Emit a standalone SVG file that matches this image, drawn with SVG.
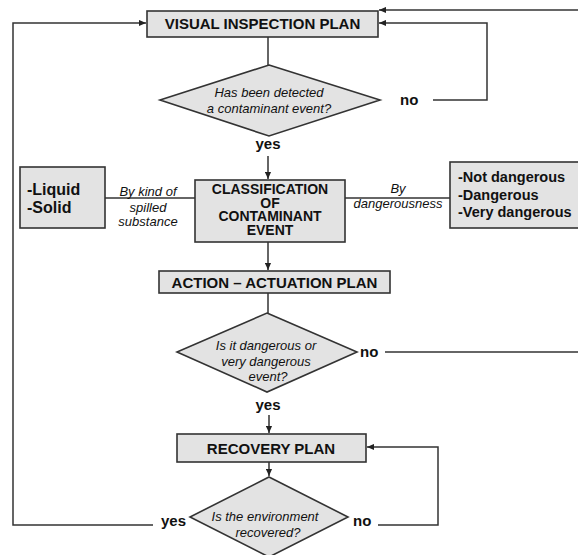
<svg xmlns="http://www.w3.org/2000/svg" width="578" height="555" viewBox="0 0 578 555">
<defs>
<marker id="ah" viewBox="0 0 8 8" refX="8" refY="4" markerWidth="7" markerHeight="7" markerUnits="userSpaceOnUse" orient="auto">
<path d="M0,0.5 L8,4 L0,7.5 Z" fill="#222"/>
</marker>
<style>
.box{fill:#e3e3e3;stroke:#333;stroke-width:1.6}
.ln{fill:none;stroke:#333;stroke-width:1.5}
.arr{fill:none;stroke:#333;stroke-width:1.5;marker-end:url(#ah)}
.bt{font-family:"Liberation Sans",Arial,sans-serif;font-weight:bold;fill:#111;text-anchor:middle}
.bl{font-family:"Liberation Sans",Arial,sans-serif;font-weight:bold;fill:#111}
.it{font-family:"Liberation Sans",Arial,sans-serif;font-style:italic;fill:#111;text-anchor:middle;font-size:13px}
</style>
</defs>
<rect width="578" height="555" fill="#fff"/>
<g id="connectors">
<line class="ln" x1="268" y1="37" x2="268" y2="65"/>
<polyline class="arr" points="433,100 487,100 487,23 379,23"/>
<polyline class="arr" points="578,10 379,10"/>
<polyline class="arr" points="153,525 13,525 13,23 146,23"/>
<line class="arr" x1="268" y1="156" x2="268" y2="179"/>
<line class="ln" x1="105" y1="198" x2="195" y2="198"/>
<line class="ln" x1="345" y1="198" x2="450" y2="198"/>
<line class="arr" x1="268" y1="242" x2="268" y2="270"/>
<line class="ln" x1="268" y1="293" x2="268" y2="313"/>
<line class="ln" x1="385" y1="352" x2="578" y2="352"/>
<line class="arr" x1="269" y1="415" x2="269" y2="433"/>
<line class="arr" x1="269" y1="462" x2="269" y2="476"/>
<polyline class="arr" points="378,525 438,525 438,447 367,447"/>
</g>
<g id="visual-inspection">
<rect class="box" x="147" y="11" width="231" height="26"/>
<text class="bt" x="262.5" y="29" font-size="15">VISUAL INSPECTION PLAN</text>
</g>
<g id="detected-decision">
<polygon class="box" points="269,65 380,100 269,136 160,100"/>
<text class="it" x="269" y="97">Has been detected</text>
<text class="it" x="269" y="113">a contaminant event?</text>
</g>
<g id="label-no-1"><text class="bl" x="400" y="105" font-size="15">no</text></g>
<g id="label-yes-1"><text class="bt" x="268" y="149" font-size="15">yes</text></g>
<g id="substance-kinds">
<rect class="box" x="20" y="167" width="85" height="61"/>
<text class="bl" x="27" y="195" font-size="16">-Liquid</text>
<text class="bl" x="27" y="213" font-size="16">-Solid</text>
</g>
<g id="label-kind">
<text class="it" x="148" y="196">By kind of</text>
<text class="it" x="148" y="212">spilled</text>
<text class="it" x="148" y="226">substance</text>
</g>
<g id="classification">
<rect class="box" x="195" y="180" width="150" height="62"/>
<text class="bt" x="270" y="194" font-size="14">CLASSIFICATION</text>
<text class="bt" x="270" y="207.5" font-size="14">OF</text>
<text class="bt" x="270" y="221" font-size="14">CONTAMINANT</text>
<text class="bt" x="270" y="234.5" font-size="14">EVENT</text>
</g>
<g id="label-danger">
<text class="it" x="398" y="193">By</text>
<text class="it" x="398" y="208">dangerousness</text>
</g>
<g id="danger-levels">
<rect class="box" x="450" y="162" width="140" height="66"/>
<text class="bl" x="458" y="182" font-size="14.5">-Not dangerous</text>
<text class="bl" x="458" y="200" font-size="14.5">-Dangerous</text>
<text class="bl" x="458" y="217" font-size="14.5">-Very dangerous</text>
</g>
<g id="action-plan">
<rect class="box" x="159" y="271" width="231" height="22"/>
<text class="bt" x="274.5" y="288" font-size="15">ACTION – ACTUATION PLAN</text>
</g>
<g id="danger-decision">
<polygon class="box" points="267,313 357,352 267,392 177,352"/>
<text class="it" x="266" y="350">Is it dangerous or</text>
<text class="it" x="266" y="366">very dangerous</text>
<text class="it" x="268" y="381">event?</text>
</g>
<g id="label-no-2"><text class="bl" x="360" y="357" font-size="15">no</text></g>
<g id="label-yes-2"><text class="bt" x="268" y="410" font-size="15">yes</text></g>
<g id="recovery-plan">
<rect class="box" x="177" y="434" width="189" height="28"/>
<text class="bt" x="271" y="454" font-size="15">RECOVERY PLAN</text>
</g>
<g id="recovered-decision">
<polygon class="box" points="269,477 348,517 269,557 190,517"/>
<text class="it" x="265" y="521" font-size="13.5">Is the environment</text>
<text class="it" x="268" y="537" font-size="13.5">recovered?</text>
</g>
<g id="label-yes-3"><text class="bl" x="161" y="526" font-size="15">yes</text></g>
<g id="label-no-3"><text class="bl" x="353" y="526" font-size="15">no</text></g>
</svg>
